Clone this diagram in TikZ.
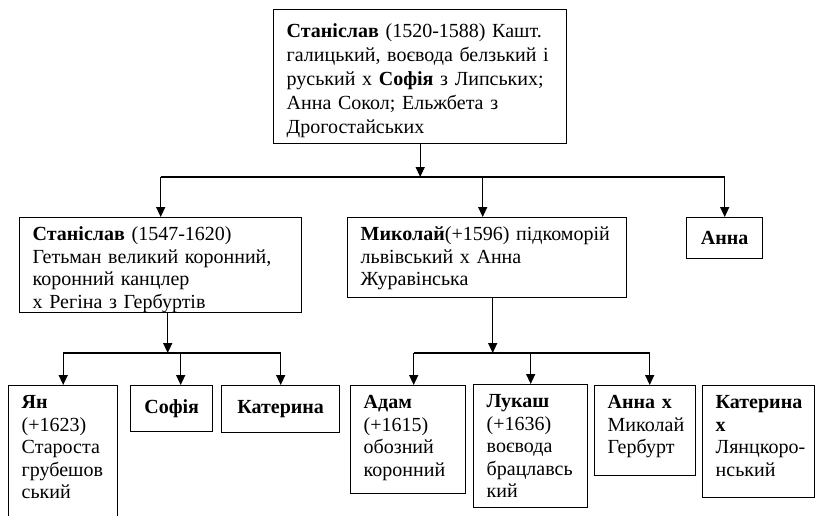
\documentclass[tikz,border=0pt]{standalone}
\usepackage{fontspec}
\setmainfont{Liberation Serif}
\usetikzlibrary{arrows.meta}
\tikzset{
  famnode/.style={draw, line width=0.7pt, anchor=north west, align=left,
    inner xsep=6.5pt, inner ysep=0pt, text height=11.5pt,
    font=\fontsize{10}{11.25}\selectfont},
  namebox/.style={draw, line width=0.7pt, anchor=north west, align=center,
    inner sep=0pt, font=\fontsize{10}{11.25}\selectfont\bfseries},
  arr/.style={-{Triangle[length=5pt,width=4.5pt]}, line width=0.7pt}
}
\begin{document}
\begin{tikzpicture}[x=0.5pt,y=-0.5pt]
\clip (0,0) rectangle (815,515);

% first generation
\node[famnode, text width=133.5pt, text height=14pt, text depth=53pt,
  font=\fontsize{10}{12}\selectfont] (stan1) at (273,9)
  {\textbf{Станіслав}~(1520-1588)~Кашт.\\ галицький,~воєвода~белзький~і\\
   руський~х~\textbf{Софія}~з~Липських;\\ Анна~Сокол;~Ельжбета~з\\ Дрогостайських};

% second generation
\node[famnode, text width=128pt, text depth=36pt] (stan2) at (19,217)
  {\textbf{Станіслав} (1547-1620)\\ Гетьман~великий~коронний,\\
   коронний канцлер\\ х Регіна з Гербуртів};
\node[famnode, text width=126.5pt, text depth=28.5pt] (mykola) at (347,217)
  {\textbf{Миколай}(+1596)~підкоморій\\ львівський х Анна\\ Журавінська};
\node[namebox, minimum width=38pt, minimum height=20.5pt] (anna1) at (686,217) {Анна};

% third generation
\node[famnode, text width=41.5pt, text depth=58.5pt] (jan) at (8,385)
  {\textbf{Ян}\\ (+1623)\\ Староста\\ грубешов\\ ський};
\node[namebox, minimum width=41pt, minimum height=23pt] (sofia) at (130,385) {Софія};
\node[namebox, minimum width=59pt, minimum height=23.5pt] (kateryna1) at (221,385) {Катерина};
\node[famnode, text width=44.5pt, text depth=42.5pt] (adam) at (350,385)
  {\textbf{Адам}\\ (+1615)\\ обозний\\ коронний};
\node[famnode, text width=44pt, text depth=50pt] (lukash) at (473,384)
  {\textbf{Лукаш}\\ (+1636)\\ воєвода\\ брацлавсь\\ кий};
\node[famnode, text width=37.5pt, text depth=33.5pt] (anna2) at (594,385)
  {\textbf{Анна~х}\\ Миколай\\ Гербурт};
\node[famnode, text width=43pt, text depth=44.5pt] (kateryna2) at (702,385)
  {\textbf{Катерина}\\ \textbf{х}\\ \mbox{Лянцкоро-}\\ нський};

% connectors
\coordinate (bus1) at (0,177);
\coordinate (bus2) at (0,353);
\coordinate (s2out) at ([xshift=3.5pt]stan2.south);
\coordinate (m1in) at ([xshift=-2.25pt]mykola.north);
\coordinate (m1out) at ([xshift=2.75pt]mykola.south);
\coordinate (sofin) at ([xshift=4.5pt]sofia.north);
\coordinate (adin) at ([xshift=2.75pt]adam.north);
\coordinate (a2in) at ([xshift=2.25pt]anna2.north);

\draw[arr] (stan1.south) -- (stan1.south |- bus1);
\draw[line width=0.7pt] (stan2.north |- bus1) -- (anna1.north |- bus1);
\draw[arr] (stan2.north |- bus1) -- (stan2.north);
\draw[arr] (m1in |- bus1) -- (m1in);
\draw[arr] (anna1.north |- bus1) -- (anna1.north);

\draw[arr] (s2out) -- (s2out |- bus2);
\draw[line width=0.7pt] (jan.north |- bus2) -- (kateryna1.north |- bus2);
\draw[arr] (jan.north |- bus2) -- (jan.north);
\draw[arr] (sofin |- bus2) -- (sofin);
\draw[arr] (kateryna1.north |- bus2) -- (kateryna1.north);

\draw[arr] (m1out) -- (m1out |- bus2);
\draw[line width=0.7pt] (adin |- bus2) -- (a2in |- bus2);
\draw[arr] (adin |- bus2) -- (adin);
\draw[arr] (lukash.north |- bus2) -- (lukash.north);
\draw[arr] (a2in |- bus2) -- (a2in);

\end{tikzpicture}
\end{document}
